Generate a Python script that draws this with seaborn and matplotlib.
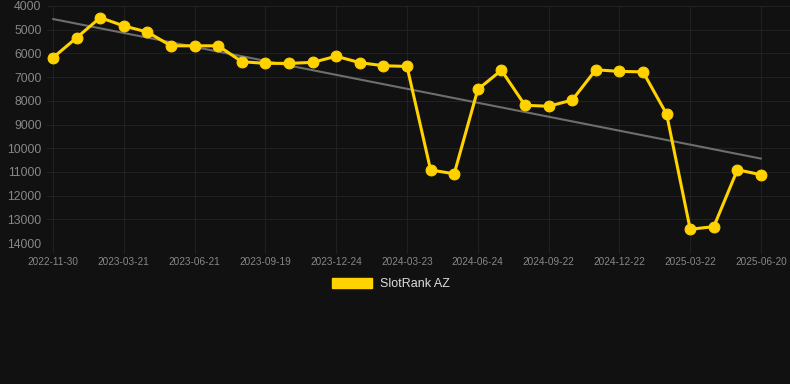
import numpy as np
import pandas as pd
import matplotlib
matplotlib.use("Agg")
import matplotlib.pyplot as plt
from matplotlib.patches import Patch
import seaborn as sns

dates = [
    "2022-11-30", "2023-01-05", "2023-02-12", "2023-03-21", "2023-04-22", "2023-05-21",
    "2023-06-21", "2023-07-21", "2023-08-20", "2023-09-19", "2023-10-21", "2023-11-22",
    "2023-12-24", "2024-01-23", "2024-02-22", "2024-03-23", "2024-04-24", "2024-05-25",
    "2024-06-24", "2024-07-24", "2024-08-23", "2024-09-22", "2024-10-22", "2024-11-21",
    "2024-12-22", "2025-01-21", "2025-02-20", "2025-03-22", "2025-04-21", "2025-05-21",
    "2025-06-20",
]
ranks = [
    6180, 5340, 4490, 4840, 5100, 5680, 5680, 5680, 6350, 6420, 6420,
    6380, 6120, 6390, 6520, 6550, 10920, 11080, 7520, 6710, 8190, 8230,
    7970, 6690, 6760, 6780, 8560, 13420, 13310, 10910, 11120,
]
series_name = "SlotRank AZ"

bg = "#111111"
grid_c = "#212121"
text_c = "#888888"
gold = "#FFD200"

df = pd.DataFrame({"idx": np.arange(len(dates)), "date": dates, "rank": ranks})

sns.set_style("dark")
plt.rcParams["font.family"] = ["Liberation Sans", "DejaVu Sans"]

fig = plt.figure(figsize=(7.9, 3.84), dpi=100, facecolor=bg)
ax = fig.add_axes([47 / 790, 1 - 243 / 384, 1 - 47 / 790, (243 - 6) / 384])
ax.set_facecolor(bg)

# trend line
sns.regplot(data=df, x="idx", y="rank", scatter=False, ci=None, ax=ax,
            line_kws={"color": "#6e6e6e", "linewidth": 1.5, "zorder": 2})

sns.lineplot(data=df, x="idx", y="rank", ax=ax, color=gold, linewidth=2.2,
             marker="o", markersize=7.8, markeredgecolor=gold, zorder=3)

ax.set_ylim(14000, 4000)
ax.set_xlim(-6 / 23.6, 30 + 29 / 23.6)
ax.set_yticks(np.arange(4000, 14001, 1000))
tick_pos = list(range(0, len(dates), 3))
ax.set_xticks(tick_pos)
ax.set_xticklabels([dates[i] for i in tick_pos])

ax.grid(True, color=grid_c, linewidth=0.8)
for s in ax.spines.values():
    s.set_visible(False)
ax.tick_params(axis="x", colors=text_c, labelsize=7.2, length=7, width=0.8,
               color=grid_c, pad=3, direction="out", bottom=True)
ax.tick_params(axis="y", colors=text_c, labelsize=8.8, length=0, pad=4)
ax.set_xlabel("")
ax.set_ylabel("")

handle = Patch(facecolor=gold, edgecolor=gold, label=series_name)
fig.legend(handles=[handle], loc="center", bbox_to_anchor=(391 / 790, 1 - 284 / 384),
           frameon=False, fontsize=9, labelcolor="#dddddd", handlelength=3.2,
           handleheight=0.85, handletextpad=0.6)

fig.savefig("out.png", dpi=100, facecolor=bg)
